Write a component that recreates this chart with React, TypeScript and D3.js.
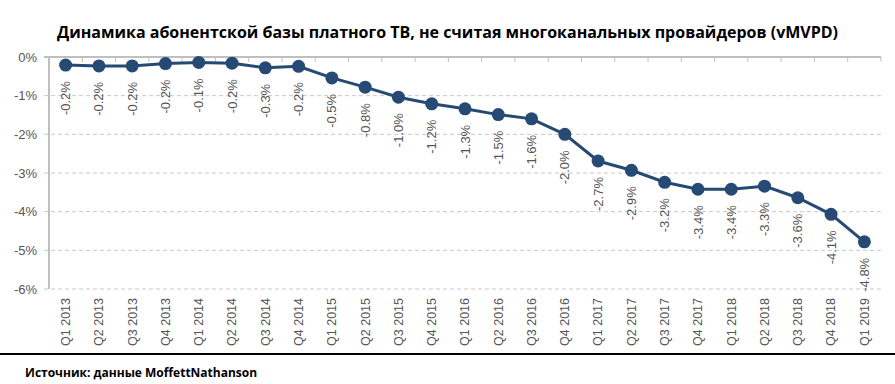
import { useEffect, useRef } from "react";
import * as d3 from "d3";

const quarters = [
  "Q1 2013", "Q2 2013", "Q3 2013", "Q4 2013",
  "Q1 2014", "Q2 2014", "Q3 2014", "Q4 2014",
  "Q1 2015", "Q2 2015", "Q3 2015", "Q4 2015",
  "Q1 2016", "Q2 2016", "Q3 2016", "Q4 2016",
  "Q1 2017", "Q2 2017", "Q3 2017", "Q4 2017",
  "Q1 2018", "Q2 2018", "Q3 2018", "Q4 2018",
  "Q1 2019",
];

const changePct = [
  -0.21, -0.23, -0.23, -0.17,
  -0.14, -0.16, -0.28, -0.24,
  -0.54, -0.78, -1.04, -1.21,
  -1.34, -1.49, -1.6, -2.0,
  -2.69, -2.93, -3.24, -3.42,
  -3.42, -3.34, -3.64, -4.07,
  -4.78,
];

const yTicks = [0, -1, -2, -3, -4, -5, -6];

const TITLE =
  "Динамика абонентской базы платного ТВ, не считая многоканальных провайдеров (vMVPD)";
const SOURCE = "Источник: данные MoffettNathanson";

const W = 895;
const H = 384;
const PLOT = { left: 49, right: 881, top: 57, bottom: 289 };
const LINE_COLOR = "#264a73";
const TEXT_GRAY = "#555";

export default function App() {
  const svgRef = useRef<SVGSVGElement>(null);

  useEffect(() => {
    if (!svgRef.current) return;
    const svg = d3.select(svgRef.current);
    svg.selectAll("*").remove();

    svg.append("rect").attr("width", W).attr("height", H).attr("fill", "#fff");

    const x = d3
      .scaleBand<string>()
      .domain(quarters)
      .range([PLOT.left, PLOT.right])
      .padding(0);
    const y = d3.scaleLinear().domain([0, -6]).range([PLOT.top, PLOT.bottom]);

    // Title
    svg
      .append("text")
      .attr("x", W / 2)
      .attr("y", 38)
      .attr("text-anchor", "middle")
      .attr("font-family", "'Open Sans', sans-serif")
      .attr("font-weight", "700")
      .attr("font-size", "16px")
      .attr("fill", "#000")
      .text(TITLE);

    // Dashed grid lines
    svg
      .append("g")
      .selectAll("line")
      .data(yTicks.filter((d) => d !== 0))
      .join("line")
      .attr("x1", PLOT.left - 5)
      .attr("x2", PLOT.right)
      .attr("y1", (d) => y(d))
      .attr("y2", (d) => y(d))
      .attr("stroke", "#c8c8c8")
      .attr("stroke-width", 1)
      .attr("stroke-dasharray", "4,3");

    // Y axis labels
    svg
      .append("g")
      .selectAll("text")
      .data(yTicks)
      .join("text")
      .attr("x", PLOT.left - 12)
      .attr("y", (d) => y(d))
      .attr("dy", "0.35em")
      .attr("text-anchor", "end")
      .attr("font-family", "'Liberation Sans', Arial, sans-serif")
      .attr("font-size", "13px")
      .attr("fill", TEXT_GRAY)
      .text((d) => `${d}%`);

    // Y axis line
    svg
      .append("line")
      .attr("x1", PLOT.left)
      .attr("x2", PLOT.left)
      .attr("y1", PLOT.top)
      .attr("y2", PLOT.bottom)
      .attr("stroke", "#bfbfbf")
      .attr("stroke-width", 2);

    // Category axis at 0%
    svg
      .append("line")
      .attr("x1", PLOT.left - 5)
      .attr("x2", PLOT.right)
      .attr("y1", y(0))
      .attr("y2", y(0))
      .attr("stroke", "#bfbfbf")
      .attr("stroke-width", 2);

    svg
      .append("g")
      .selectAll("line")
      .data(quarters)
      .join("line")
      .attr("x1", (d) => (x(d) ?? 0) + x.bandwidth())
      .attr("x2", (d) => (x(d) ?? 0) + x.bandwidth())
      .attr("y1", y(0))
      .attr("y2", y(0) + 5)
      .attr("stroke", "#bfbfbf")
      .attr("stroke-width", 1);

    // Category labels
    svg
      .append("g")
      .selectAll("text")
      .data(quarters)
      .join("text")
      .attr(
        "transform",
        (d) => `translate(${(x(d) ?? 0) + x.bandwidth() / 2},${PLOT.bottom + 9}) rotate(-90)`
      )
      .attr("text-anchor", "end")
      .attr("dy", "0.35em")
      .attr("font-family", "'Liberation Sans', Arial, sans-serif")
      .attr("font-size", "12.5px")
      .attr("fill", TEXT_GRAY)
      .text((d) => d);

    const pts = quarters.map((q, i) => ({ q, v: changePct[i] }));
    const cx = (d: { q: string }) => (x(d.q) ?? 0) + x.bandwidth() / 2;

    // Line
    const line = d3
      .line<{ q: string; v: number }>()
      .x(cx)
      .y((d) => y(d.v));

    svg
      .append("path")
      .datum(pts)
      .attr("d", line)
      .attr("fill", "none")
      .attr("stroke", LINE_COLOR)
      .attr("stroke-width", 3);

    svg
      .append("g")
      .selectAll("circle")
      .data(pts)
      .join("circle")
      .attr("cx", cx)
      .attr("cy", (d) => y(d.v))
      .attr("r", 6.5)
      .attr("fill", LINE_COLOR);

    // Value labels
    svg
      .append("g")
      .selectAll("text")
      .data(pts)
      .join("text")
      .attr("transform", (d) => `translate(${cx(d)},${y(d.v) + 16}) rotate(-90)`)
      .attr("text-anchor", "end")
      .attr("dy", "0.35em")
      .attr("font-family", "'Liberation Sans', Arial, sans-serif")
      .attr("font-size", "13px")
      .attr("fill", TEXT_GRAY)
      .text((d) => `${d.v.toFixed(1)}%`);

    // Bottom rule and source
    svg
      .append("line")
      .attr("x1", 0)
      .attr("x2", W)
      .attr("y1", 354)
      .attr("y2", 354)
      .attr("stroke", "#000")
      .attr("stroke-width", 2);

    svg
      .append("text")
      .attr("x", 25)
      .attr("y", 377)
      .attr("font-family", "'Open Sans', sans-serif")
      .attr("font-weight", "700")
      .attr("font-size", "12px")
      .attr("fill", "#000")
      .text(SOURCE);
  }, []);

  return (
    <svg
      ref={svgRef}
      width={W}
      height={H}
      style={{ position: "absolute", left: 0, top: 0, display: "block" }}
    />
  );
}
